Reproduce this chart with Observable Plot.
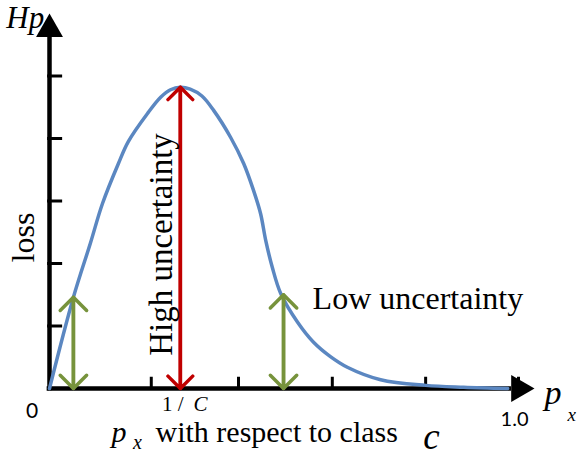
<!DOCTYPE html>
<html><head><meta charset="utf-8">
<script src="https://cdn.jsdelivr.net/npm/d3@7"></script>
<script src="https://cdn.jsdelivr.net/npm/@observablehq/plot@0.6"></script>
<style>html,body{margin:0;padding:0;background:#fff}#chart{width:580px;height:456px}</style>
</head><body><div id="chart"></div>
<script>
// loss curve Hp as a function of p_x
const curveX = [0, 0.051, 0.087, 0.113, 0.147, 0.168, 0.209, 0.237, 0.258, 0.279, 0.300, 0.325, 0.350, 0.386, 0.414, 0.435, 0.450, 0.461, 0.475, 0.493, 0.529, 0.563, 0.599, 0.635, 0.706, 0.802, 0.883, 0.977];
const curveY = [0, 1.46, 2.32, 2.96, 3.60, 3.95, 4.40, 4.66, 4.78, 4.82, 4.79, 4.68, 4.45, 4.02, 3.60, 3.17, 2.80, 2.37, 1.94, 1.52, 1.06, 0.74, 0.51, 0.34, 0.14, 0.05, 0.02, 0.0];
const xTicks = [0.217, 0.403, 0.603, 0.802, 1.0];
const yTicks = [1, 2, 3, 4, 5];
const highX = [0.279];          // 1/C
const highY = [4.82];
const lowX = [0.051, 0.499];
const lowY = [1.46, 1.50];
const axisTop = [5.62];
const axisRight = [0.985];
const labels = {hp: "Hp", loss: "loss", high: "High uncertainty", low: "Low uncertainty",
  zero: "0", oneSlash: "1 /", C: "C", oneDot: "1.0", p: "p", x: "x", axisText: "with respect to class", c: "c"};

const curve = curveX.map((x, i) => ({x, y: curveY[i]}));
const high = highX.map((x, i) => ({x, y: highY[i]}));
const low = lowX.map((x, i) => ({x, y: lowY[i]}));

const blue = "#5b87c1", red = "#c00000", green = "#77933c";
const serif = "Liberation Serif", sans = "Lato";
const T = (text, o) => Plot.text([text], {text: d => d, lineAnchor: "bottom", fill: "#000", ...o});

const chart = Plot.plot({
  width: 580, height: 456,
  marginLeft: 49, marginRight: 62, marginTop: 13, marginBottom: 68,
  x: {domain: [0, 1], axis: null},
  y: {domain: [0, 6], axis: null},
  style: {background: "#fff", overflow: "visible"},
  marks: [
    // axes
    Plot.ruleX([0], {y1: -0.035, y2: axisTop[0], stroke: "#000", strokeWidth: 4.5}),
    Plot.ruleY([0], {x1: -0.005, x2: axisRight[0], stroke: "#000", strokeWidth: 4.5}),
    Plot.ruleY(yTicks, {y: d => d, x1: -0.004, x2: 0.028, stroke: "#000", strokeWidth: 3}),
    Plot.ruleX(xTicks, {x: d => d, y1: 0, y2: 0.18, stroke: "#000", strokeWidth: 3}),
    // curve
    Plot.line(curve, {x: "x", y: "y", stroke: blue, strokeWidth: 3.5, curve: "catmull-rom"}),
    // double arrows
    Plot.arrow(high, {x1: "x", x2: "x", y1: 0, y2: "y", stroke: red, strokeWidth: 3.5, headAngle: 90, headLength: 7.5}),
    Plot.arrow(high, {x1: "x", x2: "x", y1: "y", y2: 0, stroke: red, strokeWidth: 3.5, headAngle: 90, headLength: 7.5}),
    Plot.arrow(low, {x1: "x", x2: "x", y1: 0, y2: "y", stroke: green, strokeWidth: 3.5, headAngle: 90, headLength: 8}),
    Plot.arrow(low, {x1: "x", x2: "x", y1: "y", y2: 0, stroke: green, strokeWidth: 3.5, headAngle: 90, headLength: 8}),
    // axis arrowheads
    Plot.dot(axisTop, {x: 0, y: d => d + 0.13, symbol: "triangle", r: 10, fill: "#000", stroke: null}),
    Plot.dot(axisRight, {x: d => d + 0.016, y: 0, symbol: "triangle", r: 10, fill: "#000", stroke: null, rotate: 90}),
    // texts
    T(labels.hp, {x: -0.092, y: 5.776, textAnchor: "start", fontFamily: serif, fontStyle: "italic", fontSize: 31}),
    T(labels.loss, {x: -0.034, y: 2.416, textAnchor: "middle", rotate: -90, fontFamily: serif, fontSize: 32}),
    T(labels.high, {x: 0.262, y: 2.304, textAnchor: "middle", rotate: -90, fontFamily: serif, fontSize: 33}),
    T(labels.low, {x: 0.561, y: 1.28, textAnchor: "start", fontFamily: serif, fontSize: 32}),
    T(labels.zero, {x: -0.037, y: -0.464, textAnchor: "middle", fontFamily: sans, fontSize: 21}),
    T(labels.oneSlash, {x: 0.240, y: -0.36, textAnchor: "start", fontFamily: serif, fontSize: 21}),
    T(labels.C, {x: 0.307, y: -0.36, textAnchor: "start", fontFamily: serif, fontStyle: "italic", fontSize: 21}),
    T(labels.oneDot, {x: 0.9915, y: -0.592, textAnchor: "middle", fontFamily: sans, fontSize: 20}),
    T(labels.p, {x: 1.0554, y: -0.24, textAnchor: "start", fontFamily: serif, fontStyle: "italic", fontSize: 34}),
    T(labels.x, {x: 1.1045, y: -0.512, textAnchor: "start", fontFamily: serif, fontStyle: "italic", fontSize: 19}),
    T(labels.p, {x: 0.1322, y: -0.848, textAnchor: "start", fontFamily: serif, fontStyle: "italic", fontSize: 30}),
    T(labels.x, {x: 0.178, y: -0.96, textAnchor: "start", fontFamily: serif, fontStyle: "italic", fontSize: 20}),
    T(labels.axisText, {x: 0.226, y: -0.848, textAnchor: "start", fontFamily: serif, fontSize: 30}),
    T(labels.c, {x: 0.797, y: -0.96, textAnchor: "start", fontFamily: serif, fontStyle: "italic", fontSize: 37})
  ]
});
document.getElementById("chart").appendChild(chart);
</script>
</body></html>
